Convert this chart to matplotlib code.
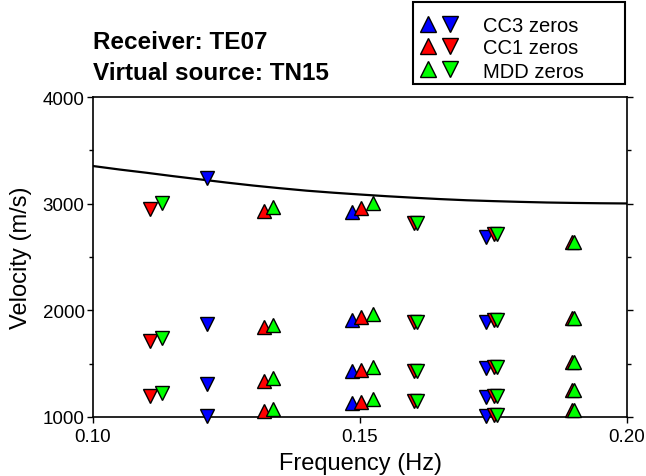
import matplotlib
matplotlib.use("Agg")
import matplotlib.pyplot as plt
from matplotlib.lines import Line2D
from matplotlib.patches import Rectangle

plt.rcParams['font.family'] = ['Liberation Sans', 'DejaVu Sans']

# Reference curve
curve_f = [0.100, 0.105, 0.110, 0.115, 0.120, 0.125, 0.130, 0.135, 0.140, 0.145,
           0.150, 0.155, 0.160, 0.165, 0.170, 0.175, 0.180, 0.185, 0.190, 0.195, 0.200]
curve_v = [3353, 3320, 3290, 3258, 3228, 3198, 3170, 3145, 3122, 3103,
           3086, 3070, 3056, 3043, 3032, 3024, 3017, 3011, 3007, 3004, 3002]

# CC3 zeros
cc3_up_f = [0.1485, 0.1485, 0.1485, 0.1485]
cc3_up_v = [2925, 1910, 1431, 1131]
cc3_dn_f = [0.1213, 0.1213, 0.1213, 0.1213, 0.1736, 0.1736, 0.1736, 0.1736, 0.1736]
cc3_dn_v = [3240, 1872, 1310, 1009, 2690, 1890, 1459, 1187, 1009]

# CC1 zeros
cc1_up_f = [0.1320, 0.1320, 0.1320, 0.1320, 0.1502, 0.1502, 0.1502, 0.1502,
            0.1897, 0.1897, 0.1897, 0.1897, 0.1897]
cc1_up_v = [2931, 1844, 1338, 1056, 2960, 1937, 1441, 1141,
            2640, 1928, 1516, 1253, 1066]
cc1_dn_f = [0.1107, 0.1107, 0.1107, 0.1601, 0.1601, 0.1601, 0.1601,
            0.1750, 0.1750, 0.1750, 0.1750, 0.1750]
cc1_dn_v = [2950, 1712, 1197, 2819, 1890, 1431, 1150,
            2716, 1910, 1469, 1197, 1019]

# MDD zeros
mdd_up_f = [0.1337, 0.1337, 0.1337, 0.1337, 0.1524, 0.1524, 0.1524, 0.1524,
            0.1900, 0.1900, 0.1900, 0.1900, 0.1900]
mdd_up_v = [2969, 1862, 1366, 1075, 3006, 1966, 1469, 1169,
            2640, 1928, 1516, 1253, 1066]
mdd_dn_f = [0.1129, 0.1129, 0.1129, 0.1606, 0.1606, 0.1606, 0.1606,
            0.1757, 0.1757, 0.1757, 0.1757, 0.1757]
mdd_dn_v = [3006, 1740, 1225, 2819, 1890, 1431, 1150,
            2716, 1910, 1469, 1197, 1019]

legend_labels = ['CC3 zeros', 'CC1 zeros', 'MDD zeros']

BLUE = '#0000ff'
RED = '#ff0000'
GREEN = '#00ff00'
legend_colors = [BLUE, RED, GREEN]

W, H = 646, 477
fig = plt.figure(figsize=(W / 100, H / 100), dpi=100)
ax = fig.add_axes([0.144, 0.1237, 0.8266, 0.6708])

ax.plot(curve_f, curve_v, color='black', lw=1.6, zorder=2)

ms = 9.5
mkw = dict(linestyle='none', markeredgecolor='black', markeredgewidth=1.0,
           markersize=ms, zorder=3, clip_on=False)
ax.plot(cc3_up_f, cc3_up_v, marker='^', markerfacecolor=BLUE, **mkw)
ax.plot(cc3_dn_f, cc3_dn_v, marker='v', markerfacecolor=BLUE, **mkw)
ax.plot(cc1_up_f, cc1_up_v, marker='^', markerfacecolor=RED, **mkw)
ax.plot(cc1_dn_f, cc1_dn_v, marker='v', markerfacecolor=RED, **mkw)
ax.plot(mdd_up_f, mdd_up_v, marker='^', markerfacecolor=GREEN, **mkw)
ax.plot(mdd_dn_f, mdd_dn_v, marker='v', markerfacecolor=GREEN, **mkw)

ax.set_xlim(0.10, 0.20)
ax.set_ylim(1000, 4000)
ax.set_xticks([0.10, 0.15, 0.20])
ax.set_xticklabels(['0.10', '0.15', '0.20'])
ax.set_yticks([1000, 2000, 3000, 4000])
ax.set_yticks([1500, 2500, 3500], minor=True)
ax.tick_params(axis='both', which='major', direction='out', length=4, width=1,
               labelsize=13.5, pad=2)
ax.tick_params(axis='x', which='major', pad=4)
ax.tick_params(axis='y', which='both', right=True)
ax.tick_params(axis='y', which='minor', direction='out', length=3, width=1)
for s in ax.spines.values():
    s.set_linewidth(1.2)

ax.set_xlabel('Frequency (Hz)', fontsize=17, labelpad=5)
ax.set_ylabel('Velocity (m/s)', fontsize=17, labelpad=8)

fig.text(0.144, 1 - 49 / H, 'Receiver: TE07', fontsize=17.5, fontweight='bold',
         ha='left', va='baseline')
fig.text(0.144, 1 - 80 / H, 'Virtual source: TN15', fontsize=17.5, fontweight='bold',
         ha='left', va='baseline')

# Legend box drawn in figure pixel space
def fx(px):
    return px / W

def fy(py):
    return 1 - py / H

fig.add_artist(Rectangle((fx(413), fy(85)), fx(625) - fx(413), fy(3) - fy(85),
                         transform=fig.transFigure, facecolor='white',
                         edgecolor='black', linewidth=1.5, zorder=5))
row_y = [25, 47, 70]
lms = 11.5
for lab, col, ry in zip(legend_labels, legend_colors, row_y):
    fig.add_artist(Line2D([fx(428)], [fy(ry)], transform=fig.transFigure,
                          linestyle='none', marker='^', markersize=lms,
                          markerfacecolor=col, markeredgecolor='black',
                          markeredgewidth=1.0, zorder=6))
    fig.add_artist(Line2D([fx(450)], [fy(ry)], transform=fig.transFigure,
                          linestyle='none', marker='v', markersize=lms,
                          markerfacecolor=col, markeredgecolor='black',
                          markeredgewidth=1.0, zorder=6))
    fig.text(fx(483), fy(ry), lab, fontsize=14.5, ha='left', va='center_baseline',
             zorder=7)

fig.savefig('out.png', dpi=100)
